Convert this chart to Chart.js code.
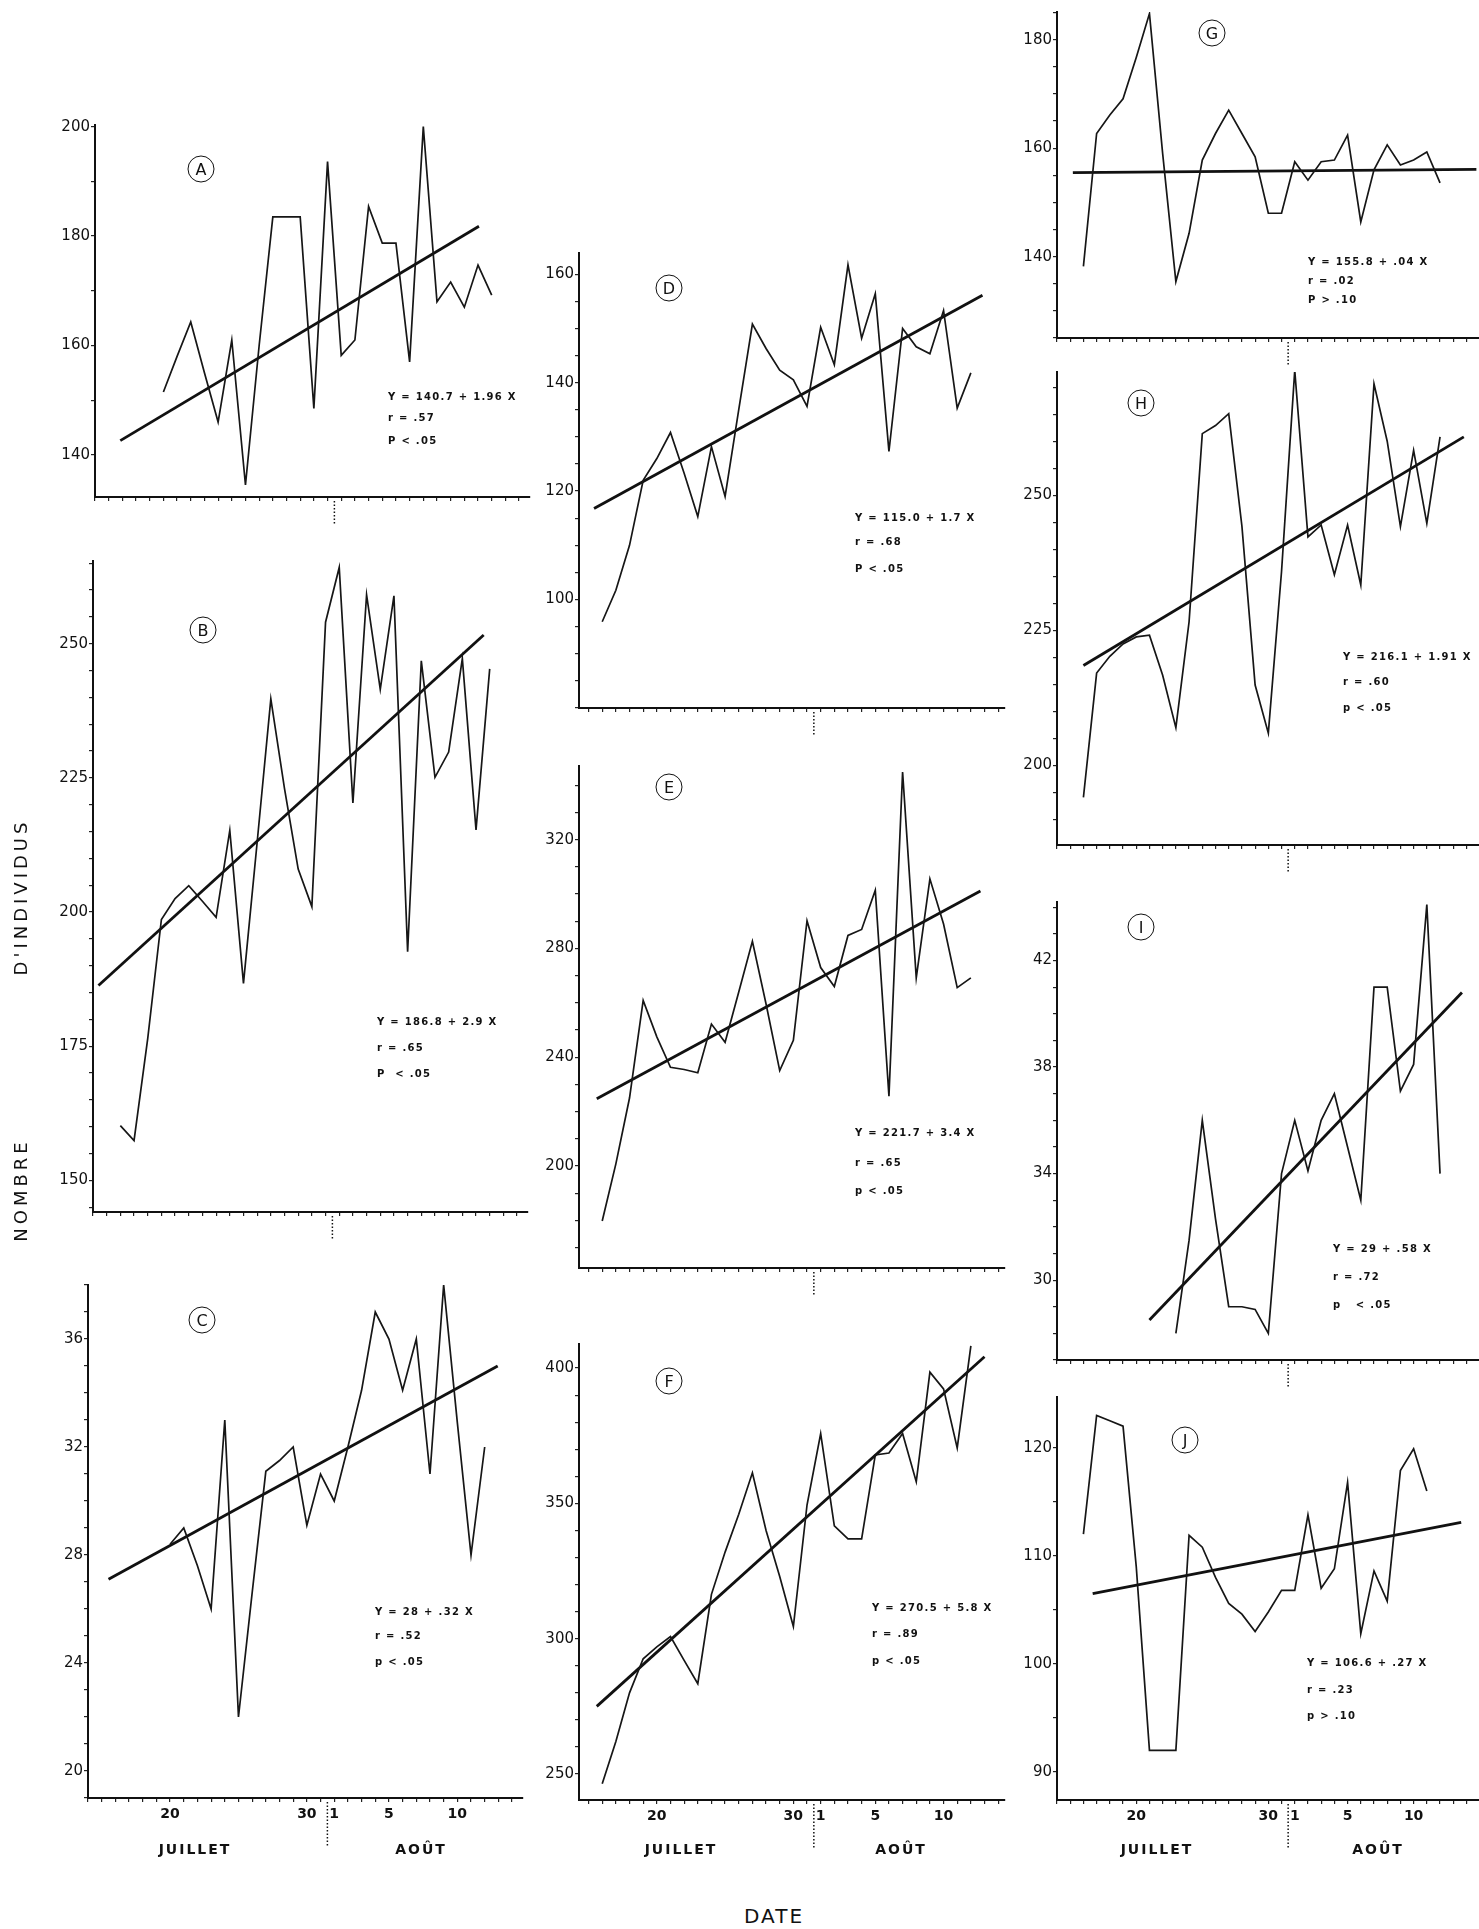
<!DOCTYPE html>
<html>
<head>
<meta charset="utf-8">
<script src="https://cdn.jsdelivr.net/npm/chart.js@4.4.1/dist/chart.umd.min.js"></script>
<style>
  body { margin: 0; background: #fff; }
  #page { position: relative; width: 1479px; height: 1929px; overflow: hidden; background: #fff;
          font-family: 'DejaVu Sans', sans-serif; color: #111; }
  canvas { position: absolute; }
  .tag { position: absolute; width: 25px; height: 25px; border: 1.4px solid #111; border-radius: 50%;
         transform: translate(-50%, -50%); text-align: center; line-height: 25px; font-size: 16px; }
  .eq { position: absolute; font-size: 10px; font-weight: bold; letter-spacing: 1.3px; white-space: pre;
        transform: translateY(-50%); }
  .month { position: absolute; font-size: 14px; font-weight: bold; letter-spacing: 2px; white-space: nowrap;
           transform: translate(-50%, -50%); }
  .vlabel { position: absolute; font-size: 18px; letter-spacing: 4px; white-space: nowrap;
            transform: translate(-50%, -50%) rotate(-90deg); }
  .date { position: absolute; font-size: 20px; letter-spacing: 2px; transform: translate(-50%, -50%); }
</style>
</head>
<body>
<div id="page"></div>
<script>
// days: July 1 = 1, August 1 = 32
const daysA = [19,20,21,22,23,24,25,26,27,28,29,30,31,32,33,34,35,36,37,38,39,40,41,42,43];
const countsA = [151.5,158,164.3,155,146,161,134.5,160,183.5,183.5,183.5,148.5,193.6,158.2,161,185.4,178.7,178.7,157,200,168,171.6,167,174.7,169.2];
const fitDaysA = [15.85, 42.07];
const fitA = [142.6, 181.8];

const daysB = [16,17,18,19,20,21,22,23,24,25,26,27,28,29,30,31,32,33,34,35,36,37,38,39,40,41,42,43];
const countsB = [160.2,157.4,176.4,198.6,202.5,204.9,202,199,215.2,186.7,213,239.7,223,208,201,254,264.2,220.3,259.1,241.5,258.9,192.6,246.8,225.1,229.8,247.2,215.3,245.3];
const fitDaysB = [14.4, 42.56];
const fitB = [186.3, 251.6];

const daysC = [20,21,22,23,24,25,26,27,28,29,30,31,32,33,34,35,36,37,38,39,40,41,42,43];
const countsC = [28.4,29.0,27.6,26.0,33.0,22.0,26.6,31.1,31.5,32.0,29.1,31.0,30.0,32.0,34.1,37.0,36.0,34.1,36.0,31.0,38.0,32.9,28.0,32.0];
const fitDaysC = [15.5, 43.95];
const fitC = [27.1, 35.0];

const daysD = [16,17,18,19,20,21,22,23,24,25,26,27,28,29,30,31,32,33,34,35,36,37,38,39,40,41,42,43];
const countsD = [95.9,101.7,110,122,126,130.8,123.3,115.3,128.2,119,135,150.8,146.3,142.3,140.5,135.6,150.2,143.3,161.7,148.2,156.4,127.3,150,146.6,145.3,153.3,135.3,141.8];
const fitDaysD = [15.4, 43.85];
const fitD = [116.8, 156.1];

const daysE = [16,17,18,19,20,21,22,23,24,25,26,27,28,29,30,31,32,33,34,35,36,37,38,39,40,41,42,43];
const countsE = [179.8,200.8,225,260.9,247.5,236.3,235.5,234.3,252.2,245.5,264,282.6,259.6,235.1,246.2,290.2,273,266,284.8,287,301.4,225.7,344.9,269.2,305.6,289,265.6,269.2];
const fitDaysE = [15.6, 43.7];
const fitE = [224.7, 301.1];

const daysF = [16,17,18,19,20,21,22,23,24,25,26,27,28,29,30,31,32,33,34,35,36,37,38,39,40,41,42,43];
const countsF = [246.4,262,280,292.6,297,300.8,292,283.4,316.4,332,346,361.3,340,323,304.5,349.4,375.8,341.7,336.9,336.9,367.9,368.6,375.8,358,398.5,392.3,370.5,408.2];
const fitDaysF = [15.6, 44];
const fitF = [275, 404.2];

const daysG = [16,17,18,19,20,21,22,23,24,25,26,27,28,29,30,31,32,33,34,35,36,37,38,39,40,41,42,43];
const countsG = [138.2,162.7,166.1,169.1,176.7,184.8,159,135.4,144.3,157.8,162.7,167,162.7,158.4,148,148,157.5,154.1,157.5,157.8,162.4,146.4,156,160.6,156.9,157.8,159.3,153.6];
const fitDaysG = [15.2, 45.75];
const fitG = [155.5, 156.1];

const daysH = [16,17,18,19,20,21,22,23,24,25,26,27,28,29,30,31,32,33,34,35,36,37,38,39,40,41,42,43];
const countsH = [194.1,217.1,220.2,222.5,223.8,224.1,216.7,207,226.6,261.4,262.9,265.1,244.3,214.9,206,235.9,273.1,242.3,244.5,235.3,244.5,233.4,270.6,260,244.2,258.3,244.8,260.8];
const fitDaysH = [16, 44.8];
const fitH = [218.5, 260.8];

const daysI = [23,24,25,26,27,28,29,30,31,32,33,34,35,36,37,38,39,40,41,42,43];
const countsI = [28.0,31.5,36.0,32.3,29.0,29.0,28.9,28.0,34.0,36.0,34.1,36.0,37.0,35.0,33.0,41.0,41.0,37.1,38.1,44.1,34.0];
const fitDaysI = [21, 44.66];
const fitI = [28.5, 40.8];

const daysJ = [16,17,18,19,20,21,22,23,24,25,26,27,28,29,30,31,32,33,34,35,36,37,38,39,40,41,42];
const countsJ = [112.0,123.0,122.5,122.0,109,92.0,92.0,92.0,111.9,110.8,108,105.6,104.6,103.0,104.8,106.8,106.8,113.8,107.0,108.8,116.8,102.8,108.6,105.8,117.9,119.9,116.0];
const fitDaysJ = [16.7, 44.6];
const fitJ = [106.5, 113.1];

// x tick labels (days) and y tick labels per panel
const dateTicks = [20, 30, 32, 36, 41];
const dateLabels = ['20', '30', '1', '5', '10'];
const yLabelsA = [140, 160, 180, 200];
const yLabelsB = [150, 175, 200, 225, 250];
const yLabelsC = [20, 24, 28, 32, 36];
const yLabelsD = [100, 120, 140, 160];
const yLabelsE = [200, 240, 280, 320];
const yLabelsF = [250, 300, 350, 400];
const yLabelsG = [140, 160, 180];
const yLabelsH = [200, 225, 250];
const yLabelsI = [30, 34, 38, 42];
const yLabelsJ = [90, 100, 110, 120];

const statsA = ['Y = 140.7 + 1.96 X', 'r = .57', 'P < .05'];
const statsB = ['Y = 186.8 + 2.9 X', 'r = .65', 'P  < .05'];
const statsC = ['Y = 28 + .32 X', 'r = .52', 'p < .05'];
const statsD = ['Y = 115.0 + 1.7 X', 'r = .68', 'P < .05'];
const statsE = ['Y = 221.7 + 3.4 X', 'r = .65', 'p < .05'];
const statsF = ['Y = 270.5 + 5.8 X', 'r = .89', 'p < .05'];
const statsG = ['Y = 155.8 + .04 X', 'r = .02', 'P > .10'];
const statsH = ['Y = 216.1 + 1.91 X', 'r = .60', 'p < .05'];
const statsI = ['Y = 29 + .58 X', 'r = .72', 'p   < .05'];
const statsJ = ['Y = 106.6 + .27 X', 'r = .23', 'p > .10'];

// layout of the ten panels (pixels on the page): box = [left, right, top, bottom]
const panels = [
  { tag: 'A', days: daysA, counts: countsA, fitDays: fitDaysA, fit: fitA, yLabels: yLabelsA, stats: statsA,
    box: [95, 530, 125, 497], x: [14, 45.8], y: [132.3, 200.3], minor: 10,
    tagAt: [201, 169], eqAt: [388, 396, 417, 440] },
  { tag: 'B', days: daysB, counts: countsB, fitDays: fitDaysB, fit: fitB, yLabels: yLabelsB, stats: statsB,
    box: [93, 528, 561, 1212], x: [14, 45.8], y: [144.1, 265.4], minor: 5,
    tagAt: [203, 630], eqAt: [377, 1021, 1047, 1073] },
  { tag: 'C', days: daysC, counts: countsC, fitDays: fitDaysC, fit: fitC, yLabels: yLabelsC, stats: statsC,
    box: [88, 523, 1285, 1798], x: [14, 45.8], y: [19, 38.0], minor: 1, bottom: true,
    tagAt: [202, 1320], eqAt: [375, 1611, 1635, 1661], months: [[195, 1849], [421, 1849]] },
  { tag: 'D', days: daysD, counts: countsD, fitDays: fitDaysD, fit: fitD, yLabels: yLabelsD, stats: statsD,
    box: [579, 1005, 253, 708], x: [14.3, 45.5], y: [80, 163.9], minor: 5,
    tagAt: [669, 288], eqAt: [855, 517, 541, 568] },
  { tag: 'E', days: daysE, counts: countsE, fitDays: fitDaysE, fit: fitE, yLabels: yLabelsE, stats: statsE,
    box: [579, 1005, 766, 1268], x: [14.3, 45.5], y: [162.5, 347.1], minor: 10,
    tagAt: [669, 787], eqAt: [855, 1132, 1162, 1190] },
  { tag: 'F', days: daysF, counts: countsF, fitDays: fitDaysF, fit: fitF, yLabels: yLabelsF, stats: statsF,
    box: [579, 1005, 1344, 1800], x: [14.3, 45.5], y: [240.4, 408.9], minor: 10, bottom: true,
    tagAt: [669, 1381], eqAt: [872, 1607, 1633, 1660], months: [[681, 1849], [901, 1849]] },
  { tag: 'G', days: daysG, counts: countsG, fitDays: fitDaysG, fit: fitG, yLabels: yLabelsG, stats: statsG,
    box: [1057, 1479, 12, 338], x: [14, 45.95], y: [125, 185.1], minor: 5,
    tagAt: [1212, 33], eqAt: [1308, 261, 280, 299] },
  { tag: 'H', days: daysH, counts: countsH, fitDays: fitDaysH, fit: fitH, yLabels: yLabelsH, stats: statsH,
    box: [1057, 1479, 372, 845], x: [14, 45.95], y: [185.3, 272.8], minor: 5,
    tagAt: [1141, 403], eqAt: [1343, 656, 681, 707] },
  { tag: 'I', days: daysI, counts: countsI, fitDays: fitDaysI, fit: fitI, yLabels: yLabelsI, stats: statsI,
    box: [1057, 1479, 902, 1360], x: [14, 45.95], y: [27, 44.2], minor: 1,
    tagAt: [1141, 927], eqAt: [1333, 1248, 1276, 1304] },
  { tag: 'J', days: daysJ, counts: countsJ, fitDays: fitDaysJ, fit: fitJ, yLabels: yLabelsJ, stats: statsJ,
    box: [1057, 1479, 1397, 1800], x: [14, 45.95], y: [87.4, 124.7], minor: 5, bottom: true,
    tagAt: [1185, 1440], eqAt: [1307, 1662, 1689, 1715], months: [[1157, 1849], [1378, 1849]] }
];

Chart.defaults.font.family = "'DejaVu Sans', sans-serif";
Chart.defaults.color = '#111';

// short dotted mark under the axis between 31 July and 1 August
const monthDivider = {
  id: 'monthDivider',
  afterDraw(chart, args, opts) {
    const { ctx, chartArea, scales } = chart;
    const x = scales.x.getPixelForValue(31.5);
    ctx.save();
    ctx.strokeStyle = '#111';
    ctx.lineWidth = 1.5;
    ctx.setLineDash([1.5, 2]);
    ctx.beginPath();
    ctx.moveTo(x, chartArea.bottom + 4);
    ctx.lineTo(x, chartArea.bottom + opts.length);
    ctx.stroke();
    ctx.restore();
  }
};

const page = document.getElementById('page');

function addDiv(cls, text, x, y) {
  const d = document.createElement('div');
  d.className = cls;
  d.textContent = text;
  d.style.left = x + 'px';
  d.style.top = y + 'px';
  page.appendChild(d);
  return d;
}

panels.forEach(function(p) {
  const axisW = 70, padTop = 10, padRight = 4;
  const bottomH = p.bottom ? 58 : 34;
  const [left, right, top, bottom] = p.box;
  const canvas = document.createElement('canvas');
  canvas.width = (right - left) + axisW + padRight;
  canvas.height = (bottom - top) + padTop + bottomH;
  canvas.style.left = (left - axisW) + 'px';
  canvas.style.top = (top - padTop) + 'px';
  page.appendChild(canvas);

  new Chart(canvas.getContext('2d'), {
    type: 'line',
    data: {
      datasets: [{
        data: p.days.map((d, i) => ({ x: d, y: p.counts[i] })),
        borderColor: '#161616',
        borderWidth: 1.7,
        pointRadius: 0,
        tension: 0,
        fill: false
      }, {
        data: p.fitDays.map((d, i) => ({ x: d, y: p.fit[i] })),
        borderColor: '#111',
        borderWidth: 2.8,
        pointRadius: 0,
        fill: false
      }]
    },
    options: {
      responsive: false,
      animation: false,
      layout: { padding: { top: padTop, right: padRight, left: 0, bottom: 0 } },
      plugins: {
        legend: { display: false },
        tooltip: { enabled: false },
        monthDivider: { length: p.bottom ? 48 : 28 }
      },
      scales: {
        x: {
          type: 'linear',
          min: p.x[0],
          max: p.x[1],
          afterBuildTicks: function(scale) {
            const t = [];
            for (let d = Math.ceil(p.x[0]); d <= p.x[1]; d++) t.push({ value: d });
            scale.ticks = t;
          },
          afterFit: function(scale) { scale.height = bottomH; },
          grid: { drawOnChartArea: false, drawTicks: true, tickLength: 4, color: '#222', lineWidth: 1.2 },
          border: { display: true, color: '#111', width: 2 },
          ticks: {
            autoSkip: false,
            maxRotation: 0,
            padding: 4,
            color: '#111',
            font: { size: 14, weight: 'bold' },
            callback: function(v) {
              if (!p.bottom) return '';
              const k = dateTicks.indexOf(v);
              return k >= 0 ? dateLabels[k] : '';
            }
          }
        },
        y: {
          type: 'linear',
          min: p.y[0],
          max: p.y[1],
          afterBuildTicks: function(scale) {
            const t = [];
            for (let v = Math.ceil(p.y[0] / p.minor) * p.minor; v <= p.y[1]; v += p.minor) {
              t.push({ value: Math.round(v * 1000) / 1000 });
            }
            scale.ticks = t;
          },
          afterFit: function(scale) { scale.width = axisW; },
          grid: { drawOnChartArea: false, drawTicks: true, tickLength: 4, color: '#222', lineWidth: 1.2 },
          border: { display: true, color: '#111', width: 2 },
          ticks: {
            autoSkip: false,
            padding: 1,
            color: '#111',
            font: { size: 15 },
            callback: function(v) { return p.yLabels.indexOf(v) >= 0 ? String(v) : ''; }
          }
        }
      }
    },
    plugins: [monthDivider]
  });

  addDiv('tag', p.tag, p.tagAt[0], p.tagAt[1]);
  p.stats.forEach(function(s, i) {
    addDiv('eq', s, p.eqAt[0], p.eqAt[1 + i]);
  });
  if (p.months) {
    addDiv('month', 'JUILLET', p.months[0][0], p.months[0][1]);
    addDiv('month', 'AOÛT', p.months[1][0], p.months[1][1]);
  }
});

addDiv('vlabel', 'NOMBRE', 20, 1190);
addDiv('vlabel', "D'INDIVIDUS", 20, 897);
addDiv('date', 'DATE', 774, 1916);
</script>
</body>
</html>
